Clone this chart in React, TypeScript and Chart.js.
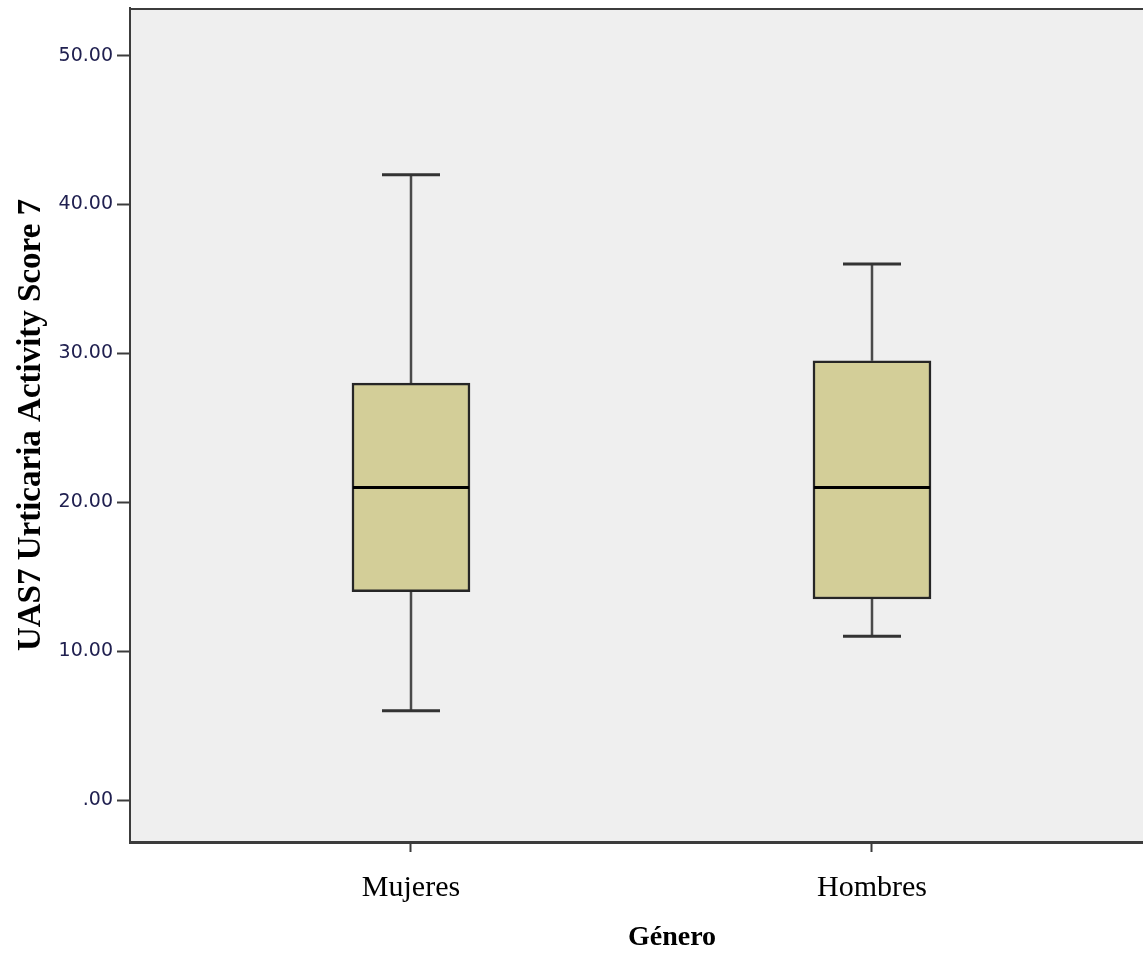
import React, { useEffect, useRef } from "react";
import { Chart, registerables } from "chart.js";

Chart.register(...registerables);

const categories = ["Mujeres", "Hombres"];
const minValues = [6, 11];
const q1Values = [14, 13.5];
const medianValues = [21, 21];
const q3Values = [28, 29.5];
const maxValues = [42, 36];
const yTickValues = [0, 10, 20, 30, 40, 50];
const xPositions = [1, 2];

const boxPlugin = {
  id: "boxParts",
  beforeDraw(chart: any) {
    const { ctx, chartArea } = chart;
    ctx.save();
    ctx.fillStyle = "#efefef";
    ctx.fillRect(chartArea.left, chartArea.top, chartArea.right - chartArea.left, chartArea.bottom - chartArea.top);
    ctx.strokeStyle = "#3c3c3c";
    ctx.lineWidth = 2;
    ctx.beginPath();
    ctx.moveTo(chartArea.left, chartArea.top + 1);
    ctx.lineTo(chartArea.right, chartArea.top + 1);
    ctx.stroke();
    ctx.restore();
  },
  beforeDatasetsDraw(chart: any) {
    const { ctx, scales } = chart;
    const xs = scales.x;
    const ys = scales.y;
    ctx.save();
    const capHalf = 29;
    xPositions.forEach((xv, i) => {
      const px = Math.round(xs.getPixelForValue(xv));
      ctx.strokeStyle = "#4a4a4a";
      ctx.lineWidth = 2.5;
      ctx.beginPath();
      ctx.moveTo(px, ys.getPixelForValue(maxValues[i]));
      ctx.lineTo(px, ys.getPixelForValue(q3Values[i]));
      ctx.moveTo(px, ys.getPixelForValue(q1Values[i]));
      ctx.lineTo(px, ys.getPixelForValue(minValues[i]));
      ctx.stroke();
      ctx.strokeStyle = "#333333";
      ctx.lineWidth = 3;
      ctx.beginPath();
      ctx.moveTo(px - capHalf, ys.getPixelForValue(maxValues[i]));
      ctx.lineTo(px + capHalf, ys.getPixelForValue(maxValues[i]));
      ctx.moveTo(px - capHalf, ys.getPixelForValue(minValues[i]));
      ctx.lineTo(px + capHalf, ys.getPixelForValue(minValues[i]));
      ctx.stroke();
    });
    ctx.restore();
  },
  afterDatasetsDraw(chart: any) {
    const { ctx, scales } = chart;
    const xs = scales.x;
    const ys = scales.y;
    ctx.save();
    const half = 58;
    xPositions.forEach((xv, i) => {
      const px = Math.round(xs.getPixelForValue(xv));
      const py = ys.getPixelForValue(medianValues[i]);
      ctx.strokeStyle = "#000000";
      ctx.lineWidth = 3;
      ctx.beginPath();
      ctx.moveTo(px - half, py);
      ctx.lineTo(px + half, py);
      ctx.stroke();
    });
    ctx.restore();
  },
};

export default function App() {
  const ref = useRef<HTMLCanvasElement>(null);
  useEffect(() => {
    if (!ref.current) return;
    const chart = new Chart(ref.current, {
      type: "bar",
      data: {
        datasets: [
          {
            data: xPositions.map((x, i) => ({ x, y: [q1Values[i], q3Values[i]] })) as any,
            backgroundColor: "#d3ce98",
            borderColor: "#262626",
            borderWidth: 2.5,
            borderSkipped: false,
            barThickness: 118,
          },
        ],
      },
      options: {
        responsive: false,
        animation: false,
        layout: { padding: { top: 8, left: 0, right: 0, bottom: 0 } },
        plugins: { legend: { display: false }, tooltip: { enabled: false } },
        scales: {
          x: {
            type: "linear",
            offset: false,
            min: 0.3905,
            max: 2.7419,
            afterFit: (s: any) => {
              s.height = 126;
              s.paddingLeft = 0;
              s.paddingRight = 0;
            },
            afterBuildTicks: (s: any) => {
              s.ticks = xPositions.map((v) => ({ value: v }));
            },
            ticks: {
              callback: (v: any) => categories[xPositions.indexOf(Number(v))] ?? "",
              font: { family: "'Liberation Serif', 'Times New Roman', serif", size: 30 },
              color: "#000000",
              padding: 18,
              maxRotation: 0,
              autoSkip: false,
            },
            grid: {
              offset: false,
              drawOnChartArea: false,
              drawTicks: true,
              tickLength: 10,
              color: "#3c3c3c",
              tickWidth: 2,
            },
            border: { display: true, color: "#3c3c3c", width: 3 },
            title: {
              display: true,
              text: "Género",
              font: { family: "'Liberation Serif', 'Times New Roman', serif", size: 28, weight: "bold" },
              color: "#000000",
              padding: { top: 0, bottom: 13 },
            },
          },
          y: {
            min: -2.82,
            max: 53.2,
            afterFit: (s: any) => {
              s.width = 130;
              s.paddingTop = 0;
              s.paddingBottom = 0;
            },
            afterBuildTicks: (s: any) => {
              s.ticks = yTickValues.map((v) => ({ value: v }));
            },
            ticks: {
              callback: (v: any) => (Number(v) === 0 ? ".00" : Number(v).toFixed(2)),
              font: { family: "'DejaVu Sans', Verdana, sans-serif", size: 19 },
              color: "#202050",
              padding: 4,
            },
            grid: {
              drawOnChartArea: false,
              drawTicks: true,
              tickLength: 13,
              color: "#3c3c3c",
              tickWidth: 2,
            },
            border: { display: true, color: "#3c3c3c", width: 2 },
            title: {
              display: true,
              text: "UAS7 Urticaria Activity Score 7",
              font: { family: "'Liberation Serif', 'Times New Roman', serif", size: 33, weight: "bold" },
              color: "#000000",
              padding: { top: 12, bottom: 0 },
            },
          },
        },
      },
      plugins: [boxPlugin],
    });
    return () => chart.destroy();
  }, []);
  return (
    <div style={{ position: "fixed", left: 0, top: 0, width: 1143, height: 968, overflow: "hidden", background: "#ffffff" }}>
      <canvas ref={ref} width={1214} height={968} style={{ display: "block" }} />
    </div>
  );
}
